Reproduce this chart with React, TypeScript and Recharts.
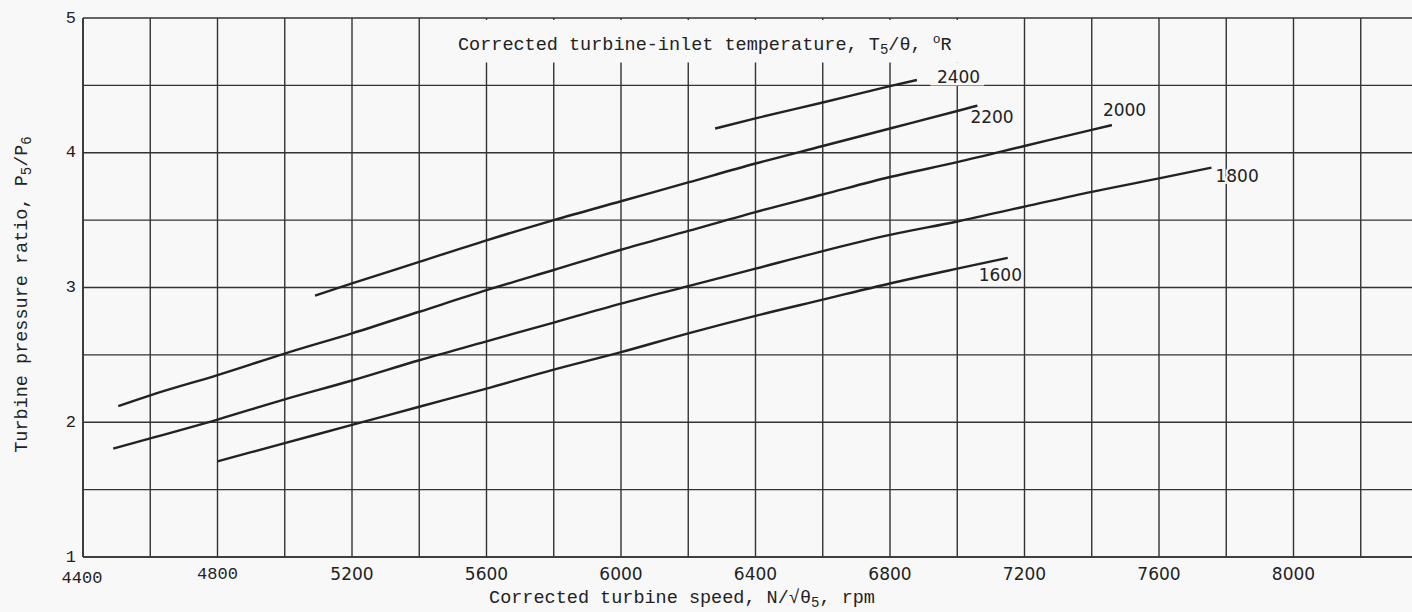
import { LineChart, Line, XAxis, YAxis, CartesianGrid, ReferenceArea } from 'recharts';

const speedTicks = [4400, 4600, 4800, 5000, 5200, 5400, 5600, 5800, 6000, 6200, 6400, 6600, 6800, 7000, 7200, 7400, 7600, 7800, 8000, 8200, 8400];
const ratioTicks = [1, 1.5, 2, 2.5, 3, 3.5, 4, 4.5, 5];

// corrected turbine-inlet temperature 2400 R
const speeds2400 = [6280, 6400, 6600, 6800, 6880];
const ratios2400 = [4.18, 4.255, 4.373, 4.494, 4.54];

// 2200 R
const speeds2200 = [5090, 5200, 5400, 5600, 5800, 6000, 6200, 6400, 6600, 6800, 7000, 7060];
const ratios2200 = [2.94, 3.03, 3.19, 3.35, 3.5, 3.64, 3.78, 3.92, 4.05, 4.18, 4.31, 4.35];

// 2000 R
const speeds2000 = [4505, 4600, 4800, 5000, 5200, 5400, 5600, 5800, 6000, 6200, 6400, 6600, 6800, 7000, 7200, 7400, 7460];
const ratios2000 = [2.12, 2.2, 2.35, 2.51, 2.66, 2.82, 2.98, 3.13, 3.28, 3.42, 3.56, 3.69, 3.82, 3.93, 4.05, 4.17, 4.205];

// 1800 R
const speeds1800 = [4490, 4600, 4800, 5000, 5200, 5400, 5600, 5800, 6000, 6200, 6400, 6600, 6800, 7000, 7200, 7400, 7600, 7756];
const ratios1800 = [1.805, 1.88, 2.02, 2.17, 2.31, 2.46, 2.6, 2.74, 2.88, 3.01, 3.14, 3.27, 3.39, 3.49, 3.6, 3.71, 3.81, 3.89];

// 1600 R
const speeds1600 = [4800, 5000, 5200, 5400, 5600, 5800, 6000, 6200, 6400, 6600, 6800, 7000, 7150];
const ratios1600 = [1.71, 1.845, 1.98, 2.115, 2.25, 2.39, 2.52, 2.66, 2.79, 2.91, 3.03, 3.14, 3.22];

const toPoints = (xs: number[], ys: number[]) => xs.map((x, i) => ({ speed: x, ratio: ys[i] }));

const curves = [
    { temp: '2400', data: toPoints(speeds2400, ratios2400) },
    { temp: '2200', data: toPoints(speeds2200, ratios2200) },
    { temp: '2000', data: toPoints(speeds2000, ratios2000) },
    { temp: '1800', data: toPoints(speeds1800, ratios1800) },
    { temp: '1600', data: toPoints(speeds1600, ratios1600) },
];

// where each curve's temperature label sits relative to the curve's end
const labelOffsets: Record<string, { dx: number, dy: number }> = {
    '2400': { dx: 20, dy: -3 },
    '2200': { dx: -7, dy: 11 },
    '2000': { dx: -9, dy: -15 },
    '1800': { dx: 4, dy: 8 },
    '1600': { dx: -29, dy: 17 },
};

const INK = '#222';
const GRID = '#333';
const BG = '#f8f8f8';
const MONO = '"Liberation Mono", "DejaVu Sans Mono", monospace';
const SANS = '"DejaVu Sans", sans-serif';

const XTick = (props: any) => {
    const { x, y, payload } = props;
    const v = payload.value;
    if (v % 400 !== 0 || v > 8000) return <g />;
    const first = v === 4400;
    return (
        <text x={first ? x - 1 : x} y={y + (first ? 21 : 17)} textAnchor="middle" dominantBaseline="central"
            fontFamily={first || v === 4800 ? MONO : SANS} fontSize={17} fill={INK}>
            {v}
        </text>
    );
};

const YTick = (props: any) => {
    const { x, y, payload } = props;
    if (!Number.isInteger(payload.value)) return <g />;
    return (
        <text x={x - 7} y={y} textAnchor="end" dominantBaseline="central" fontFamily={MONO} fontSize={17} fill={INK}>
            {payload.value}
        </text>
    );
};

const endLabel = (temp: string, lastIndex: number) => (props: any) => {
    const { cx, cy, index } = props;
    if (index !== lastIndex) return <g key={`d-${temp}-${index}`} />;
    const off = labelOffsets[temp];
    return (
        <text key={`d-${temp}-${index}`} x={cx + off.dx} y={cy + off.dy} dominantBaseline="central"
            fontFamily={SANS} fontSize={17} fill={INK} style={{ paintOrder: 'stroke' }} stroke={BG} strokeWidth={4}>
            {temp}
        </text>
    );
};

const App = () => {
    return (
        <div style={{ position: 'absolute', left: 0, top: 0, width: 1412, height: 612, overflow: 'hidden', background: BG }}>
            <LineChart width={1440} height={612} margin={{ top: 18, right: 12, left: 0, bottom: 0 }}>
                <CartesianGrid stroke={GRID} strokeWidth={1.4} />
                <XAxis
                    type="number"
                    dataKey="speed"
                    domain={[4400, 8400]}
                    ticks={speedTicks}
                    tick={<XTick />}
                    tickSize={0}
                    tickMargin={0}
                    height={55}
                    axisLine={{ stroke: GRID, strokeWidth: 1.6 }}
                    allowDataOverflow={true}
                    label={{
                        content: (p: any) => (
                            <text x={(p.viewBox?.x ?? 83) + 599} y={(p.viewBox?.y ?? 557) + 41} textAnchor="middle"
                                dominantBaseline="central" fontFamily={MONO} fontSize={18.5} fill={INK}>
                                Corrected turbine speed, N/√θ<tspan fontSize={14} dy={5}>5</tspan><tspan dy={-5}>, rpm</tspan>
                            </text>
                        ),
                    }} />
                <YAxis
                    type="number"
                    domain={[1, 5]}
                    ticks={ratioTicks}
                    tick={<YTick />}
                    tickSize={0}
                    tickMargin={0}
                    width={83}
                    axisLine={{ stroke: GRID, strokeWidth: 1.6 }}
                    allowDataOverflow={true}
                    label={{
                        content: (p: any) => {
                            const cx = 22;
                            const cy = (p.viewBox?.y ?? 18) + (p.viewBox?.height ?? 539) / 2 + 7;
                            return (
                                <text x={cx} y={cy} textAnchor="middle" dominantBaseline="central"
                                    transform={`rotate(-90 ${cx} ${cy})`} fontFamily={MONO} fontSize={18.5} fill={INK}>
                                    Turbine pressure ratio, P<tspan fontSize={14} dy={5}>5</tspan><tspan dy={-5}>/P</tspan><tspan fontSize={14} dy={5}>6</tspan>
                                </text>
                            );
                        },
                    }} />
                <ReferenceArea
                    x1={5415}
                    x2={7185}
                    y1={4.67}
                    y2={4.985}
                    fill={BG}
                    fillOpacity={1}
                    stroke="none"
                    ifOverflow="visible"
                    label={{
                        content: (p: any) => {
                            const vb = p.viewBox ?? { x: 420, y: 20, width: 600, height: 42 };
                            return (
                                <text x={458} y={vb.y + 25} dominantBaseline="central"
                                    fontFamily={MONO} fontSize={18.5} fill={INK}>
                                    Corrected turbine-inlet temperature, T<tspan fontSize={14} dy={5}>5</tspan><tspan dy={-5}>/θ, </tspan><tspan fontSize={13} dy={-6}>o</tspan><tspan dy={6}>R</tspan>
                                </text>
                            );
                        },
                    }} />
                <ReferenceArea x1={6920} x2={7080} y1={4.5} y2={4.67} fill={BG} fillOpacity={1} stroke="none" />
                {curves.map(c => (
                    <Line
                        key={c.temp}
                        data={c.data}
                        dataKey="ratio"
                        type="monotone"
                        stroke={INK}
                        strokeWidth={2.4}
                        dot={endLabel(c.temp, c.data.length - 1)}
                        activeDot={false}
                        isAnimationActive={false} />
                ))}
            </LineChart>
        </div>
    );
};

export default App;
